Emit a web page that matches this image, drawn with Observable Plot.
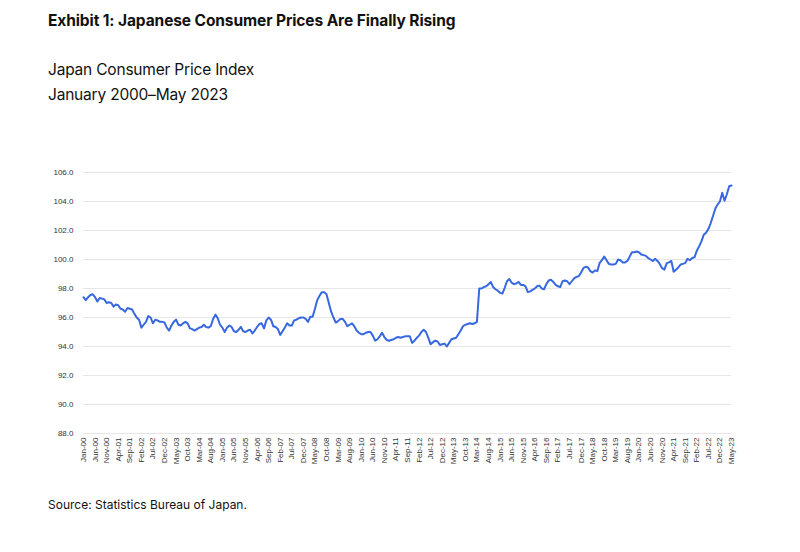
<!DOCTYPE html>
<html>
<head>
<meta charset="utf-8">
<script src="https://cdn.jsdelivr.net/npm/d3@7"></script>
<script src="https://cdn.jsdelivr.net/npm/@observablehq/plot@0.6"></script>
<style>
  html, body { margin: 0; padding: 0; background: #fff; }
  #page { position: relative; width: 800px; height: 552px; font-family: Inter, "Noto Sans", sans-serif; color: #111; }
  #title { position: absolute; left: 48px; top: 11px; font-size: 15.5px; font-weight: 700; letter-spacing: -0.1px; }
  #sub { position: absolute; left: 48px; top: 57px; font-size: 15.5px; line-height: 25px; font-weight: 400; letter-spacing: -0.2px; }
  #chart { position: absolute; left: 0; top: 160px; }
  #source { position: absolute; left: 48px; top: 497px; font-size: 12px; }
</style>
</head>
<body>
<div id="page">
  <div id="title">Exhibit 1: Japanese Consumer Prices Are Finally Rising</div>
  <div id="sub">Japan Consumer Price Index<br>January 2000–May 2023</div>
  <div id="chart"></div>
  <div id="source">Source: Statistics Bureau of Japan.</div>
</div>
<script>
// Monthly CPI values, Jan-2000 .. May-2023 (281 months)
const cpi = [
  97.4, 97.2, 97.4, 97.55, 97.6, 97.4, 97.1, 97.35, 97.3, 97.25, 97.0, 97.05,
  97.0, 96.75, 96.9, 96.85, 96.6, 96.55, 96.4, 96.65, 96.6, 96.55, 96.25, 96.0,
  95.85, 95.3, 95.5, 95.7, 96.1, 96.0, 95.6, 95.85, 95.8, 95.7, 95.7, 95.65,
  95.3, 95.1, 95.45, 95.7, 95.85, 95.5, 95.45, 95.6, 95.7, 95.6, 95.25, 95.2,
  95.1, 95.2, 95.3, 95.35, 95.5, 95.35, 95.3, 95.4, 95.9, 96.2, 95.95, 95.5,
  95.3, 95.0, 95.3, 95.45, 95.35, 95.05, 95.0, 95.15, 95.35, 95.05, 95.0, 95.1,
  95.15, 94.9, 95.1, 95.35, 95.55, 95.6, 95.25, 95.8, 96.0, 95.85, 95.4, 95.35,
  95.2, 94.8, 95.05, 95.3, 95.6, 95.45, 95.45, 95.8, 95.85, 95.95, 96.0, 96.0,
  95.9, 95.7, 96.05, 96.05, 96.6, 97.2, 97.5, 97.75, 97.75, 97.6, 97.0, 96.4,
  96.0, 95.65, 95.75, 95.9, 95.9, 95.7, 95.4, 95.5, 95.6, 95.4, 95.1, 94.95,
  94.85, 94.85, 94.95, 95.0, 95.0, 94.75, 94.4, 94.5, 94.7, 94.95, 94.65, 94.45,
  94.4, 94.45, 94.5, 94.6, 94.65, 94.6, 94.65, 94.7, 94.7, 94.7, 94.25, 94.4,
  94.6, 94.75, 95.0, 95.15, 95.0, 94.6, 94.15, 94.3, 94.4, 94.35, 94.1, 94.15,
  94.2, 94.0, 94.25, 94.5, 94.55, 94.6, 94.85, 95.1, 95.4, 95.5, 95.55, 95.6,
  95.55, 95.6, 95.7, 98.0, 98.0, 98.1, 98.15, 98.3, 98.45, 98.1, 97.95, 97.85,
  97.7, 97.65, 98.05, 98.5, 98.65, 98.4, 98.3, 98.35, 98.45, 98.25, 98.25, 98.15,
  97.75, 97.8, 97.9, 98.0, 98.15, 98.2, 98.0, 97.95, 98.3, 98.55, 98.6, 98.45,
  98.25, 98.15, 98.1, 98.5, 98.55, 98.5, 98.3, 98.5, 98.7, 98.8, 98.85, 99.1,
  99.4, 99.5, 99.45, 99.2, 99.1, 99.25, 99.2, 99.75, 99.95, 100.2, 99.95, 99.7,
  99.65, 99.65, 99.7, 100.0, 99.95, 99.8, 99.8, 99.9, 100.2, 100.5, 100.5, 100.55,
  100.5, 100.35, 100.3, 100.25, 100.1, 100.0, 99.9, 100.05, 99.9, 99.7, 99.4, 99.3,
  99.75, 99.8, 99.9, 99.15, 99.3, 99.45, 99.65, 99.7, 99.75, 100.05, 99.95, 100.1,
  100.15, 100.6, 100.9, 101.25, 101.7, 101.85, 102.1, 102.5, 103.0, 103.5, 103.8, 104.0,
  104.6, 104.05, 104.5, 105.05, 105.1
];

// X tick labels, one every five months
const tickLabels = [
  "Jan-00","Jun-00","Nov-00","Apr-01","Sep-01","Feb-02","Jul-02","Dec-02","May-03","Oct-03",
  "Mar-04","Aug-04","Jan-05","Jun-05","Nov-05","Apr-06","Sep-06","Feb-07","Jul-07","Dec-07",
  "May-08","Oct-08","Mar-09","Aug-09","Jan-10","Jun-10","Nov-10","Apr-11","Sep-11","Feb-12",
  "Jul-12","Dec-12","May-13","Oct-13","Mar-14","Aug-14","Jan-15","Jun-15","Nov-15","Apr-16",
  "Sep-16","Feb-17","Jul-17","Dec-17","May-18","Oct-18","Mar-19","Aug-19","Jan-20","Jun-20",
  "Nov-20","Apr-21","Sep-21","Feb-22","Jul-22","Dec-22","May-23"
];
const tickStep = 5;

// Y tick values
const yTicks = [88, 90, 92, 94, 96, 98, 100, 102, 104, 106];

const data = cpi.map((v, i) => ({month: i, value: v}));
const xTicks = tickLabels.map((_, k) => k * tickStep);

const chart = Plot.plot({
  width: 800,
  height: 320,
  marginTop: 12,
  marginBottom: 47,
  marginLeft: 83,
  marginRight: 69,
  style: {fontFamily: "'Liberation Sans', Arial, sans-serif", color: "#333", background: "transparent"},
  x: {domain: [0, cpi.length - 1]},
  y: {domain: [88, 106]},
  marks: [
    Plot.gridY(yTicks, {stroke: "#e6e6e6", strokeOpacity: 1, strokeWidth: 1}),
    Plot.axisY(yTicks, {tickFormat: d => d.toFixed(1), tickSize: 0, tickPadding: 10, fontSize: 8, label: null}),
    Plot.axisX(xTicks, {tickFormat: d => tickLabels[d / tickStep], tickRotate: -90, tickSize: 0, tickPadding: 4, fontSize: 8, label: null}),
    Plot.line(data, {x: "month", y: "value", stroke: "#3768e0", strokeWidth: 2, strokeLinejoin: "round"})
  ]
});
document.getElementById("chart").appendChild(chart);
</script>
</body>
</html>
